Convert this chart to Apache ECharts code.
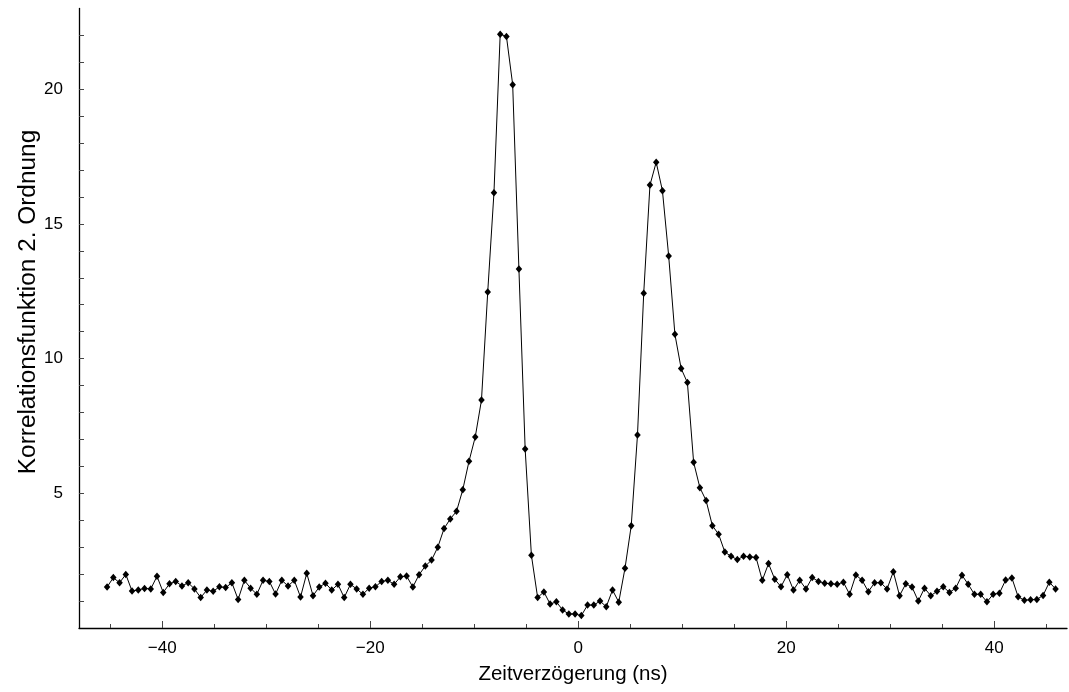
<!DOCTYPE html>
<html>
<head>
<meta charset="utf-8">
<title>Korrelationsfunktion 2. Ordnung</title>
<script src="https://cdn.jsdelivr.net/npm/echarts@6/dist/echarts.min.js"></script>
<style>
  html, body { margin: 0; padding: 0; background: #fff; }
  #chart { width: 1069px; height: 692px; }
</style>
</head>
<body>
<div id="chart"></div>
<script>
// Zeitverzögerung in ns
const delays = [
  -45.3, -44.7, -44.1, -43.5, -42.9, -42.3, -41.7, -41.1, -40.5, -39.9,
  -39.3, -38.7, -38.1, -37.5, -36.9, -36.3, -35.7, -35.1, -34.5, -33.9,
  -33.3, -32.7, -32.1, -31.5, -30.9, -30.3, -29.7, -29.1, -28.5, -27.9,
  -27.3, -26.7, -26.1, -25.5, -24.9, -24.3, -23.7, -23.1, -22.5, -21.9,
  -21.3, -20.7, -20.1, -19.5, -18.9, -18.3, -17.7, -17.1, -16.5, -15.9,
  -15.3, -14.7, -14.1, -13.5, -12.9, -12.3, -11.7, -11.1, -10.5, -9.9,
  -9.3, -8.7, -8.1, -7.5, -6.9, -6.3, -5.7, -5.1, -4.5, -3.9,
  -3.3, -2.7, -2.1, -1.5, -0.9, -0.3, 0.3, 0.9, 1.5, 2.1,
  2.7, 3.3, 3.9, 4.5, 5.1, 5.7, 6.3, 6.9, 7.5, 8.1,
  8.7, 9.3, 9.9, 10.5, 11.1, 11.7, 12.3, 12.9, 13.5, 14.1,
  14.7, 15.3, 15.9, 16.5, 17.1, 17.7, 18.3, 18.9, 19.5, 20.1,
  20.7, 21.3, 21.9, 22.5, 23.1, 23.7, 24.3, 24.9, 25.5, 26.1,
  26.7, 27.3, 27.9, 28.5, 29.1, 29.7, 30.3, 30.9, 31.5, 32.1,
  32.7, 33.3, 33.9, 34.5, 35.1, 35.7, 36.3, 36.9, 37.5, 38.1,
  38.7, 39.3, 39.9, 40.5, 41.1, 41.7, 42.3, 42.9, 43.5, 44.1,
  44.7, 45.3, 45.9
];

// g(2)-Werte zu den Verzögerungen oben
const g2 = [
  1.52, 1.87, 1.68, 1.99, 1.37, 1.41, 1.47, 1.45, 1.92, 1.32,
  1.64, 1.73, 1.56, 1.68, 1.45, 1.13, 1.41, 1.36, 1.53, 1.50,
  1.68, 1.06, 1.77, 1.48, 1.25, 1.77, 1.73, 1.26, 1.77, 1.56,
  1.77, 1.15, 2.03, 1.20, 1.52, 1.66, 1.41, 1.62, 1.13, 1.62,
  1.45, 1.25, 1.48, 1.53, 1.73, 1.77, 1.62, 1.90, 1.93, 1.52,
  1.98, 2.30, 2.52, 3.00, 3.69, 4.05, 4.33, 5.13, 6.19, 7.09,
  8.46, 12.47, 16.16, 22.04, 21.96, 20.17, 13.33, 6.64, 2.70, 1.13,
  1.34, 0.89, 0.97, 0.67, 0.52, 0.52, 0.46, 0.85, 0.85, 1.00,
  0.79, 1.41, 0.96, 2.22, 3.80, 7.16, 12.43, 16.44, 17.29, 16.23,
  13.81, 10.90, 9.63, 9.11, 6.15, 5.21, 4.73, 3.80, 3.48, 2.82,
  2.66, 2.54, 2.66, 2.64, 2.62, 1.77, 2.39, 1.81, 1.53, 1.98,
  1.41, 1.77, 1.45, 1.87, 1.73, 1.66, 1.64, 1.62, 1.70, 1.25,
  1.97, 1.77, 1.35, 1.68, 1.68, 1.45, 2.09, 1.20, 1.64, 1.52,
  1.00, 1.48, 1.20, 1.36, 1.53, 1.32, 1.48, 1.96, 1.62, 1.25,
  1.25, 0.97, 1.25, 1.29, 1.78, 1.86, 1.16, 1.03, 1.05, 1.06,
  1.21, 1.70, 1.45
];

// Achsenbeschriftung und Teilstriche
const xLabelTicks = [-40, -20, 0, 20, 40];
const xMinorTicks = [-45, -35, -30, -25, -15, -10, -5, 5, 10, 15, 25, 30, 35, 45];
const yLabelTicks = [5, 10, 15, 20];
const yTicks = [1, 2, 3, 4, 5, 6, 7, 8, 9, 10, 11, 12, 13, 14, 15, 16, 17, 18, 19, 20, 21, 22];
const xTitle = 'Zeitverzögerung (ns)';
const yTitle = 'Korrelationsfunktion 2. Ordnung';

const FONT = '"Liberation Sans", Arial, sans-serif';
const points = delays.map((t, i) => [t, g2[i]]);

const fmtX = v => (v < 0 ? '\u2212' + Math.abs(v) : String(v));

const chart = echarts.init(document.getElementById('chart'), null, { renderer: 'canvas' });
chart.setOption({
  animation: false,
  backgroundColor: '#fff',
  grid: { left: 79, right: 2, top: 8.4, bottom: 64, containLabel: false },
  graphic: [
    {
      // senkrechter Achsentitel links
      type: 'text',
      x: 28, y: 302,
      rotation: Math.PI / 2,
      style: {
        text: yTitle,
        fontFamily: FONT, fontSize: 24.4, fill: '#000',
        align: 'center', verticalAlign: 'middle'
      }
    }
  ],
  xAxis: [
    {
      type: 'value', min: -48, max: 47, position: 'bottom',
      name: xTitle, nameLocation: 'middle', nameGap: 36,
      nameTextStyle: { fontFamily: FONT, fontSize: 20.5, color: '#000' },
      axisLine: { show: true, onZero: false, lineStyle: { color: '#000', width: 1.3 } },
      axisTick: { show: true, inside: true, length: 7, customValues: xLabelTicks,
                  lineStyle: { color: '#444', width: 1 } },
      axisLabel: { show: true, customValues: xLabelTicks, formatter: fmtX, margin: 12,
                   fontFamily: FONT, fontSize: 17, color: '#000' },
      splitLine: { show: false }
    },
    {
      type: 'value', min: -48, max: 47, position: 'bottom',
      axisLine: { show: false },
      axisTick: { show: true, inside: true, length: 4, customValues: xMinorTicks,
                  lineStyle: { color: '#444', width: 1 } },
      axisLabel: { show: false },
      splitLine: { show: false }
    }
  ],
  yAxis: [
    {
      type: 'value', min: 0, max: 23, position: 'left',
      axisLine: { show: true, onZero: false, lineStyle: { color: '#000', width: 1.3 } },
      axisTick: { show: true, inside: true, length: 5, customValues: yTicks,
                  lineStyle: { color: '#444', width: 1 } },
      axisLabel: { show: true, customValues: yLabelTicks, margin: 16,
                   fontFamily: FONT, fontSize: 17, color: '#000' },
      splitLine: { show: false }
    }
  ],
  series: [
    {
      type: 'line',
      xAxisIndex: 0,
      data: points,
      symbol: 'diamond',
      symbolSize: [6.5, 7.5],
      showSymbol: true,
      itemStyle: { color: '#000' },
      lineStyle: { color: '#000', width: 1 },
      z: 3
    }
  ]
});
</script>
</body>
</html>
